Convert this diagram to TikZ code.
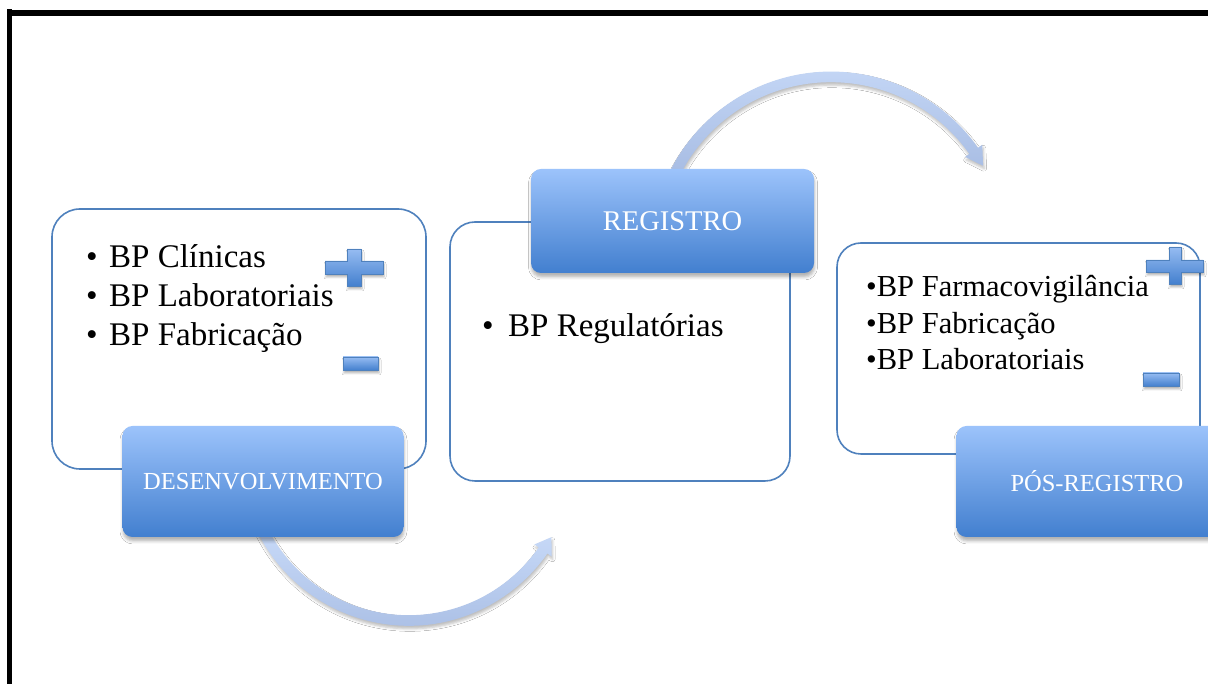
\documentclass[tikz,border=0pt]{standalone}
\usepackage{fontspec}
\setmainfont{Liberation Serif}
\usetikzlibrary{shadows.blur}
\definecolor{outl}{RGB}{79,129,189}
\definecolor{labtop}{RGB}{156,195,251}
\definecolor{labbot}{RGB}{66,127,207}
\definecolor{arrtop}{RGB}{201,219,249}
\definecolor{arrbot}{RGB}{166,187,226}
\definecolor{sgntop}{RGB}{150,188,242}
\definecolor{sgnbot}{RGB}{68,128,206}
\begin{document}
\begin{tikzpicture}[x=1pt,y=1pt,
  outbox/.style={draw=outl, line width=1.6pt, fill=white, inner sep=0pt},
  labbox/.style={rounded corners=10pt, top color=labtop, bottom color=labbot, draw=none,
    text=white, inner sep=0pt, minimum width=281pt,
    blur shadow={shadow xshift=0.5pt, shadow yshift=-4pt, shadow blur radius=3pt, shadow opacity=30}},
  bigarrow/.style={top color=arrtop, bottom color=arrbot, draw=none,
    blur shadow={shadow xshift=1pt, shadow yshift=-3pt, shadow blur radius=2.5pt, shadow opacity=25}},
  sign/.style={top color=sgntop, bottom color=sgnbot, draw=outl, line width=0.6pt,
    blur shadow={shadow xshift=1pt, shadow yshift=-3pt, shadow blur radius=2pt, shadow opacity=30}},
  item/.style={anchor=base west, inner sep=0pt, text=black},
  itemA/.style={item, font=\fontsize{33}{39}\selectfont},
  itemC/.style={item, font=\fontsize{30.5}{36}\selectfont}
]
\useasboundingbox (0,0) rectangle (1208,684);
\fill[white] (0,0) rectangle (1208,684);
% frame
\fill[black] (6.7,0) rectangle (12,675);
\fill[black] (12,668) rectangle (1208,674);

% curved arrows (behind boxes)
\begin{scope}[shift={(831,432.5)}]
  \path[bigarrow] (155:179.9) arc (155:35.2:179.9) -- (35.2:185.1) -- (29.4:174.6)
     -- (35.2:164.1) -- (35.2:169.3) arc (35.2:155:169.3) -- cycle;
\end{scope}
\begin{scope}[shift={(408.8,227.2)}]
  \path[bigarrow] (205:169) arc (205:325.1:169) -- (325.1:174.2) -- (330.6:163.7)
     -- (325.1:153.2) -- (325.1:158.4) arc (325.1:205:158.4) -- cycle;
\end{scope}

% outline boxes
\node[outbox, rounded corners=28pt, minimum width=374pt, minimum height=260pt] (box1) at (239,345) {};
\node[outbox, rounded corners=25pt, minimum width=340pt, minimum height=259pt] (box2) at (620,332.5) {};
\node[outbox, rounded corners=24pt, minimum width=363pt, minimum height=211pt] (box3) at (1018.5,335.5) {};

% label boxes
\node[labbox, minimum height=111pt, font=\fontsize{24.5}{29}\selectfont] (dev) at (263,202.5) {DESENVOLVIMENTO};
\node[labbox, minimum width=283pt, minimum height=104pt, font=\fontsize{28.5}{33}\selectfont] (reg) at (672.5,463) {REGISTRO};
\node[labbox, minimum height=111pt, font=\fontsize{24.5}{29}\selectfont] (pos) at (1097,202.5) {PÓS-REGISTRO};

% items box 1
\node[itemA] (a1) at (86,416) {\makebox[23pt][l]{•}BP Clínicas};
\node[itemA] (a2) at (86,377) {\makebox[23pt][l]{•}BP Laboratoriais};
\node[itemA] (a3) at (86,338) {\makebox[23pt][l]{•}BP Fabricação};
% items box 2
\node[itemA] (b1) at (482,347) {\makebox[26pt][l]{•}BP Regulatórias};
% items box 3
\node[itemC] (c1) at (866,387) {•BP Farmacovigilância};
\node[itemC] (c2) at (866,350) {•BP Fabricação};
\node[itemC] (c3) at (866,314) {•BP Laboratoriais};

% plus / minus signs
\path[sign] (347,435) -- (361,435) -- (361,423) -- (383,423) -- (383,410) -- (361,410)
  -- (361,398) -- (347,398) -- (347,410) -- (325,410) -- (325,423) -- (347,423) -- cycle;
\path[sign] (343,327) rectangle (378,314);
\path[sign] (1169,437) -- (1181,437) -- (1181,424) -- (1203,424) -- (1203,412) -- (1181,412)
  -- (1181,400) -- (1169,400) -- (1169,412) -- (1146,412) -- (1146,424) -- (1169,424) -- cycle;
\path[sign] (1143,311) rectangle (1179,298);
\end{tikzpicture}
\end{document}
